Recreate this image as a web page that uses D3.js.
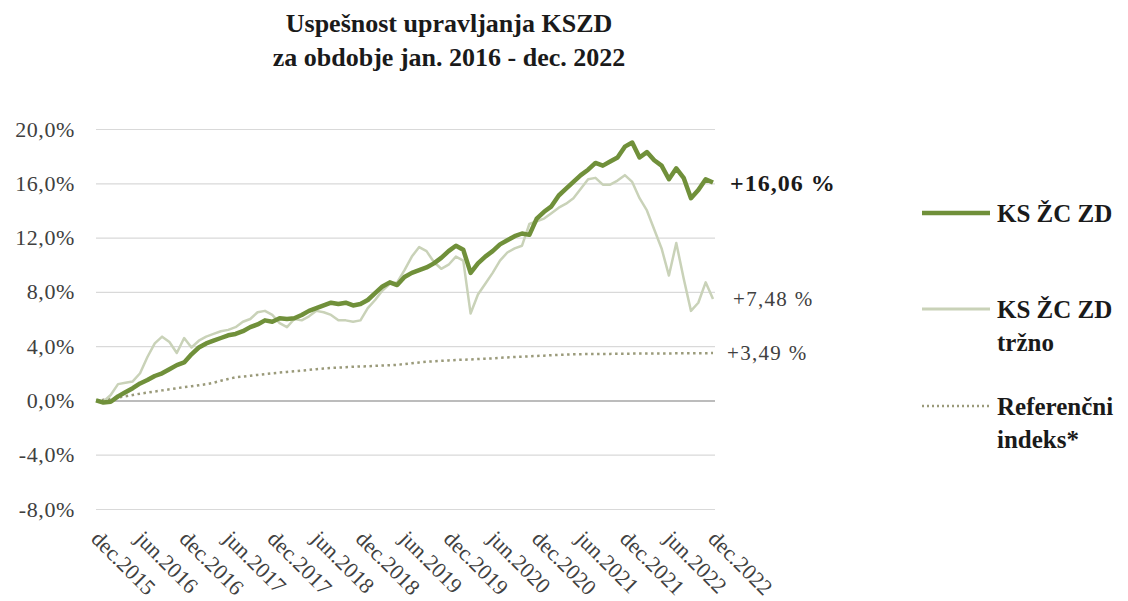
<!DOCTYPE html>
<html>
<head>
<meta charset="utf-8">
<script src="https://cdn.jsdelivr.net/npm/d3@7"></script>
<style>
  body { margin: 0; background: #fff; }
  svg text { font-family: "Liberation Serif", "DejaVu Serif", serif; }
</style>
</head>
<body>
<svg id="chart" width="1128" height="601"></svg>
<script>
// monthly values, dec.2015 .. dec.2022 (85 points), cumulative return in %
var ksZcZd = [0, -0.15, -0.1, 0.3, 0.6, 0.9, 1.25, 1.5, 1.8, 2.0, 2.3, 2.6, 2.8,
  3.4, 3.9, 4.2, 4.4, 4.6, 4.8, 4.9, 5.1, 5.4, 5.6, 5.9, 5.8, 6.05, 6.0, 6.05,
  6.3, 6.6, 6.8, 7.0, 7.2, 7.1, 7.2, 7.0, 7.1, 7.4, 7.9, 8.4, 8.7, 8.5, 9.1,
  9.4, 9.6, 9.8, 10.1, 10.5, 11.0, 11.4, 11.1, 9.4, 10.1, 10.6, 11.0, 11.5,
  11.8, 12.1, 12.3, 12.2, 13.4, 13.9, 14.3, 15.1, 15.6, 16.1, 16.6, 17.0, 17.5,
  17.3, 17.6, 17.9, 18.7, 19.0, 17.9, 18.3, 17.7, 17.3, 16.3, 17.1, 16.4,
  14.9, 15.5, 16.3, 16.06];

var ksZcZdTrzno = [0, -0.1, 0.4, 1.2, 1.3, 1.4, 2.0, 3.2, 4.2, 4.7, 4.3, 3.5, 4.6,
  3.9, 4.4, 4.7, 4.9, 5.1, 5.2, 5.4, 5.8, 6.0, 6.5, 6.6, 6.3, 5.7, 5.4, 6.0,
  5.9, 6.2, 6.6, 6.5, 6.3, 5.9, 5.9, 5.8, 5.9, 6.8, 7.4, 8.1, 8.6, 8.7, 9.6,
  10.6, 11.3, 11.0, 10.2, 9.7, 10.0, 10.6, 10.3, 6.4, 7.8, 8.6, 9.4, 10.3,
  10.9, 11.2, 11.4, 13.0, 13.2, 13.4, 13.8, 14.2, 14.5, 14.9, 15.6, 16.3, 16.4,
  15.9, 15.9, 16.2, 16.6, 16.1, 14.9, 14.0, 12.6, 11.2, 9.2, 11.6, 9.0, 6.6,
  7.2, 8.7, 7.48];

var referencniIndeks = [0, 0.05, 0.12, 0.22, 0.3, 0.4, 0.5, 0.58, 0.66, 0.74, 0.82,
  0.9, 0.98, 1.05, 1.12, 1.2, 1.3, 1.45, 1.58, 1.7, 1.76, 1.82, 1.88, 1.94, 2.0,
  2.05, 2.1, 2.15, 2.2, 2.25, 2.3, 2.35, 2.4, 2.42, 2.45, 2.48, 2.5, 2.52, 2.55,
  2.57, 2.59, 2.62, 2.68, 2.74, 2.8, 2.85, 2.88, 2.92, 2.95, 2.98, 3.0, 3.02,
  3.05, 3.08, 3.1, 3.14, 3.17, 3.2, 3.22, 3.25, 3.28, 3.3, 3.33, 3.36, 3.38, 3.4,
  3.41, 3.42, 3.42, 3.43, 3.43, 3.44, 3.44, 3.45, 3.45, 3.45, 3.46, 3.46, 3.46,
  3.47, 3.47, 3.47, 3.48, 3.48, 3.49];

var tickLabels = ["dec.2015", "jun.2016", "dec.2016", "jun.2017", "dec.2017",
  "jun.2018", "dec.2018", "jun.2019", "dec.2019", "jun.2020", "dec.2020",
  "jun.2021", "dec.2021", "jun.2022", "dec.2022"];
var yTicks = [-8, -4, 0, 4, 8, 12, 16, 20];
var endLabels = ["+16,06 %", "+7,48 %", "+3,49 %"];
var seriesNames = [["KS ŽC ZD"], ["KS ŽC ZD", "tržno"], ["Referenčni", "indeks*"]];

var svg = d3.select("#chart");

var x = d3.scaleLinear().domain([0, ksZcZd.length - 1]).range([96, 713]);
var y = d3.scaleLinear().domain([-8, 20]).range([509, 129]);

// title
var title = svg.append("text")
  .attr("x", 449).attr("y", 32)
  .attr("text-anchor", "middle")
  .style("font-size", "26px").style("font-weight", "bold").style("fill", "#1a1a1a");
title.append("tspan").attr("x", 449).text("Uspešnost upravljanja KSZD");
title.append("tspan").attr("x", 449).attr("dy", 34).text("za obdobje jan. 2016 - dec. 2022");

// gridlines + y labels
var yAxis = d3.axisLeft(y).tickValues(yTicks)
  .tickSize(-(713 - 96 + 2))
  .tickFormat(function(d) { return d3.format(".1f")(d).replace(".", ",").replace("\u2212", "-") + "%"; });

var gy = svg.append("g")
  .attr("transform", "translate(96,0)")
  .call(yAxis);
gy.select(".domain").remove();
gy.selectAll(".tick line").attr("stroke", "#d9d9d9").attr("stroke-width", 1.2);
gy.selectAll(".tick").filter(function(d) { return d === 0; }).select("line")
  .attr("stroke", "#a6a6a6").attr("stroke-width", 1.5);
gy.selectAll(".tick text")
  .attr("x", -21)
  .style("font-size", "22px").style("fill", "#404040")
  .style("letter-spacing", "0.6px")
  .style("font-family", "'Liberation Serif', serif");

// x labels every 6 months
var gx = svg.append("g");
gx.selectAll("text")
  .data(tickLabels)
  .enter().append("text")
  .attr("transform", function(d, i) {
    return "translate(" + (x(i * 6) - 6) + ",540) rotate(45)";
  })
  .style("font-size", "22px").style("fill", "#404040")
  .text(function(d) { return d; });

var line = d3.line()
  .x(function(d, i) { return x(i); })
  .y(function(d) { return y(d); });

svg.append("path").datum(referencniIndeks)
  .attr("d", line).attr("fill", "none")
  .attr("stroke", "#9a9a7a").attr("stroke-width", 2.5)
  .attr("stroke-dasharray", "2.5,3.5");

svg.append("path").datum(ksZcZdTrzno)
  .attr("d", line).attr("fill", "none")
  .attr("stroke", "#c9d2b8").attr("stroke-width", 2.5)
  .attr("stroke-linejoin", "round");

svg.append("path").datum(ksZcZd)
  .attr("d", line).attr("fill", "none")
  .attr("stroke", "#70903a").attr("stroke-width", 4.5)
  .attr("stroke-linejoin", "round");

// end labels
var last = ksZcZd.length - 1;
var endPos = [
  {v: ksZcZd[last], dx: 17, size: 24, ls: 1, bold: true, fill: "#1a1a1a"},
  {v: ksZcZdTrzno[last], dx: 20, size: 21, ls: 1.3, bold: false, fill: "#404040"},
  {v: referencniIndeks[last], dx: 14, size: 21, ls: 1.3, bold: false, fill: "#404040"}
];
svg.selectAll(".endlabel")
  .data(endLabels)
  .enter().append("text")
  .attr("class", "endlabel")
  .attr("x", function(d, i) { return x(last) + endPos[i].dx; })
  .attr("y", function(d, i) { return y(endPos[i].v); })
  .attr("dy", "0.35em")
  .style("font-size", function(d, i) { return endPos[i].size + "px"; })
  .style("letter-spacing", function(d, i) { return endPos[i].ls + "px"; })
  .style("font-weight", function(d, i) { return endPos[i].bold ? "bold" : "normal"; })
  .style("fill", function(d, i) { return endPos[i].fill; })
  .text(function(d) { return d; });

// legend
var legendStyle = [
  {stroke: "#70903a", width: 4.5, dash: null},
  {stroke: "#c9d2b8", width: 3, dash: null},
  {stroke: "#9a9a7a", width: 2.5, dash: "2,3"}
];
var legendY = [213, 309, 406];
var legend = svg.selectAll(".legend")
  .data(seriesNames)
  .enter().append("g")
  .attr("class", "legend")
  .attr("transform", function(d, i) { return "translate(922," + legendY[i] + ")"; });

legend.append("line")
  .attr("x1", 0).attr("x2", 68)
  .attr("stroke", function(d, i) { return legendStyle[i].stroke; })
  .attr("stroke-width", function(d, i) { return legendStyle[i].width; })
  .attr("stroke-dasharray", function(d, i) { return legendStyle[i].dash; });

legend.append("text")
  .attr("x", 75)
  .attr("y", 0)
  .style("font-size", "25px").style("font-weight", "bold").style("fill", "#1a1a1a")
  .selectAll("tspan")
  .data(function(d) { return d; })
  .enter().append("tspan")
  .attr("x", 75)
  .attr("dy", function(d, i) { return i === 0 ? "0.35em" : "33px"; })
  .text(function(d) { return d; });
</script>
</body>
</html>
